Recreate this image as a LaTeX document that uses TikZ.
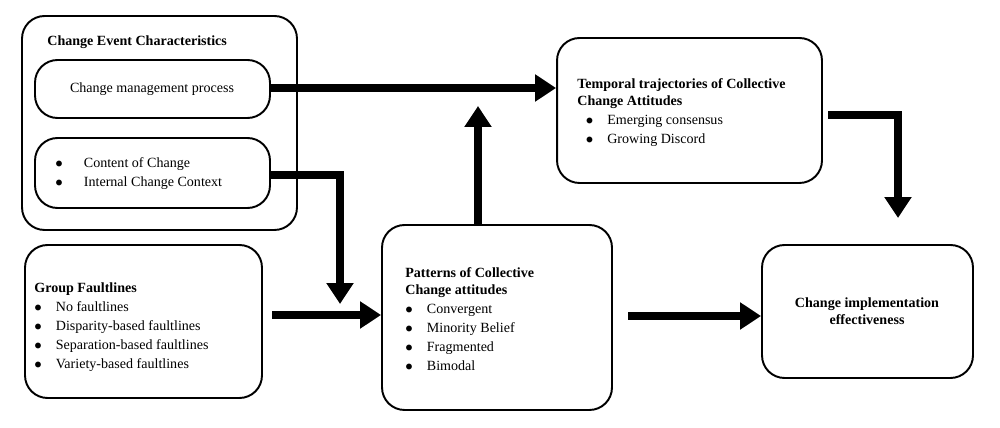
\documentclass[tikz,border=0pt]{standalone}
\usepackage{fontspec}
\setmainfont{Liberation Serif}
\usetikzlibrary{positioning, arrows.meta}

\begin{document}
\begin{tikzpicture}[x=0.02cm, y=-0.02cm,
    box/.style={draw=black, line width=1.1pt, rounded corners=0.45cm, inner sep=0pt},
    txt/.style={font=\fontsize{8}{9.8}\selectfont, align=left, inner sep=0pt},
    flow/.style={line width=0.16cm, -{Triangle[length=0.42cm, width=0.52cm]}}
]
\useasboundingbox (0,0) rectangle (1000,428);

% boxes
\node[box, minimum width=5.5cm, minimum height=4.28cm](events) at (159.5,123) {};
\node[box, minimum width=4.7cm, minimum height=1.16cm](process) at (152.5,89) {};
\node[box, minimum width=4.7cm, minimum height=1.4cm](content) at (152.5,173) {};
\node[box, minimum width=4.74cm, minimum height=3.06cm](faults) at (143.5,321.5) {};
\node[box, minimum width=4.6cm, minimum height=3.7cm](patterns) at (497,317.5) {};
\node[box, minimum width=5.3cm, minimum height=2.9cm](temporal) at (689.5,110.5) {};
\node[box, minimum width=4.22cm, minimum height=2.66cm](effect) at (867.5,311.5) {};

% texts
\node[txt, anchor=west] at (47,42) {\textbf{Change Event Characteristics}};
\node[txt] at (152,89) {Change management process};
\node[txt, anchor=west] at (55,174) {$\bullet$\hspace{1.5em}Content of Change\\[1pt]$\bullet$\hspace{1.5em}Internal Change Context};
\node[txt, anchor=north west] at (34,282) {\textbf{Group Faultlines}\\[1pt]
    $\bullet$\hspace{1em}No faultlines\\[1pt]
    $\bullet$\hspace{1em}Disparity-based faultlines\\[1pt]
    $\bullet$\hspace{1em}Separation-based faultlines\\[1pt]
    $\bullet$\hspace{1em}Variety-based faultlines};
\node[txt, anchor=north west] at (405,267) {\textbf{Patterns of Collective}\\\textbf{Change attitudes}\\[1pt]
    $\bullet$\hspace{1em}Convergent\\[1pt]
    $\bullet$\hspace{1em}Minority Belief\\[1pt]
    $\bullet$\hspace{1em}Fragmented\\[1pt]
    $\bullet$\hspace{1em}Bimodal};
\node[txt, anchor=north west] at (577,78) {\textbf{Temporal trajectories of Collective}\\\textbf{Change Attitudes}\\[1pt]
    \hspace{0.6em}$\bullet$\hspace{1em}Emerging consensus\\[1pt]
    \hspace{0.6em}$\bullet$\hspace{1em}Growing Discord};
\node[txt, align=center] at (867,311) {\textbf{Change implementation}\\\textbf{effectiveness}};

% bends
\coordinate (b1) at (340,175);
\coordinate (b2) at (898,115);

% arrows
\draw[flow] (process.east |- 0,88) -- (temporal.west |- 0,88);
\draw[flow] (content.east |- b1) -- (b1) -- (340,304);
\draw[flow] (272,315) -- (patterns.west |- 0,315);
\draw[flow] (patterns.north -| 478,0) -- (478,106);
\draw[flow] (628,316) -- (effect.west |- 0,316);
\draw[flow] (828,115) -- (b2) -- (898,218);
\end{tikzpicture}
\end{document}
